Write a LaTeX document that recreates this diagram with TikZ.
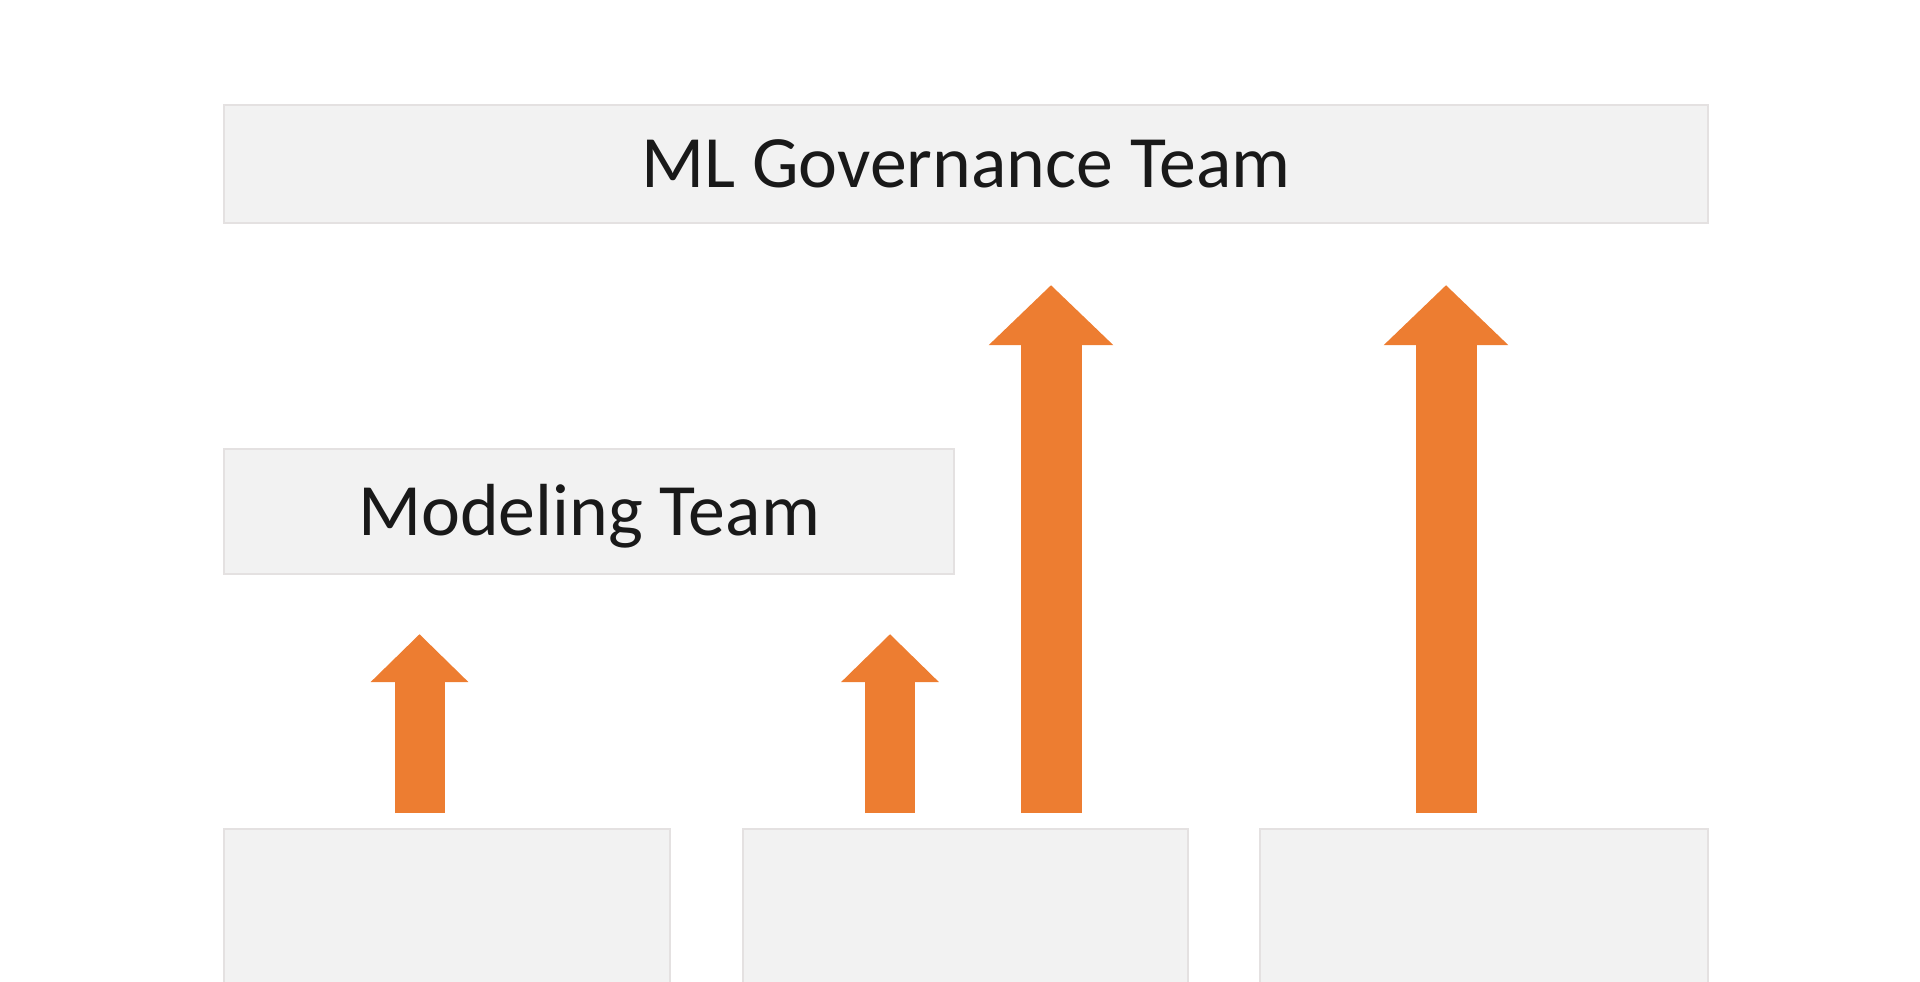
\documentclass[tikz,border=0pt]{standalone}
\usepackage{fontspec}
\setmainfont{Carlito}
\usetikzlibrary{arrows.meta}

\definecolor{boxgray}{HTML}{F2F2F2}
\definecolor{boxline}{HTML}{E4E1E1}
\definecolor{arroworange}{HTML}{ED7D31}

\tikzset{
  teambox/.style={draw=boxline, line width=0.6pt, fill=boxgray, anchor=north west,
    inner sep=0pt, text height=0.47cm, text depth=0pt,
    font=\fontsize{21}{25}\selectfont, text=black!90},
  smallarrow/.style={draw=arroworange, line width=0.50cm,
    -{Triangle[length=0.48cm, width=0.95cm]}},
  bigarrow/.style={draw=arroworange, line width=0.61cm,
    -{Triangle[length=0.60cm, width=1.21cm]}}
}

\begin{document}
\begin{tikzpicture}
    \useasboundingbox (0,0) rectangle (19.2,-9.81);
    \clip (0,0) rectangle (19.2,-9.81);

    % Draw the team boxes
    \node[teambox, minimum width=14.84cm, minimum height=1.18cm] (gov) at (2.23,-1.04) {ML Governance Team};
    \node[teambox, minimum width=7.30cm, minimum height=1.25cm] (model) at (2.23,-4.48) {Modeling Team};

    % Draw the source boxes
    \node[teambox, minimum width=4.46cm, minimum height=1.60cm] (src1) at (2.23,-8.28) {};
    \node[teambox, minimum width=4.45cm, minimum height=1.60cm] (src2) at (7.42,-8.28) {};
    \node[teambox, minimum width=4.48cm, minimum height=1.60cm] (src3) at (12.59,-8.28) {};

    % Arrow bases
    \coordinate (a1) at (4.195,-8.13);
    \coordinate (a2) at (8.90,-8.13);
    \coordinate (a3) at (10.51,-8.13);
    \coordinate (a4) at (14.46,-8.13);

    % Draw the arrows
    \draw[smallarrow] (a1) -- ([yshift=-0.59cm]a1 |- model.south);
    \draw[smallarrow] (a2) -- ([yshift=-0.59cm]a2 |- model.south);
    \draw[bigarrow] (a3) -- ([yshift=-0.61cm]a3 |- gov.south);
    \draw[bigarrow] (a4) -- ([yshift=-0.61cm]a4 |- gov.south);
\end{tikzpicture}
\end{document}
